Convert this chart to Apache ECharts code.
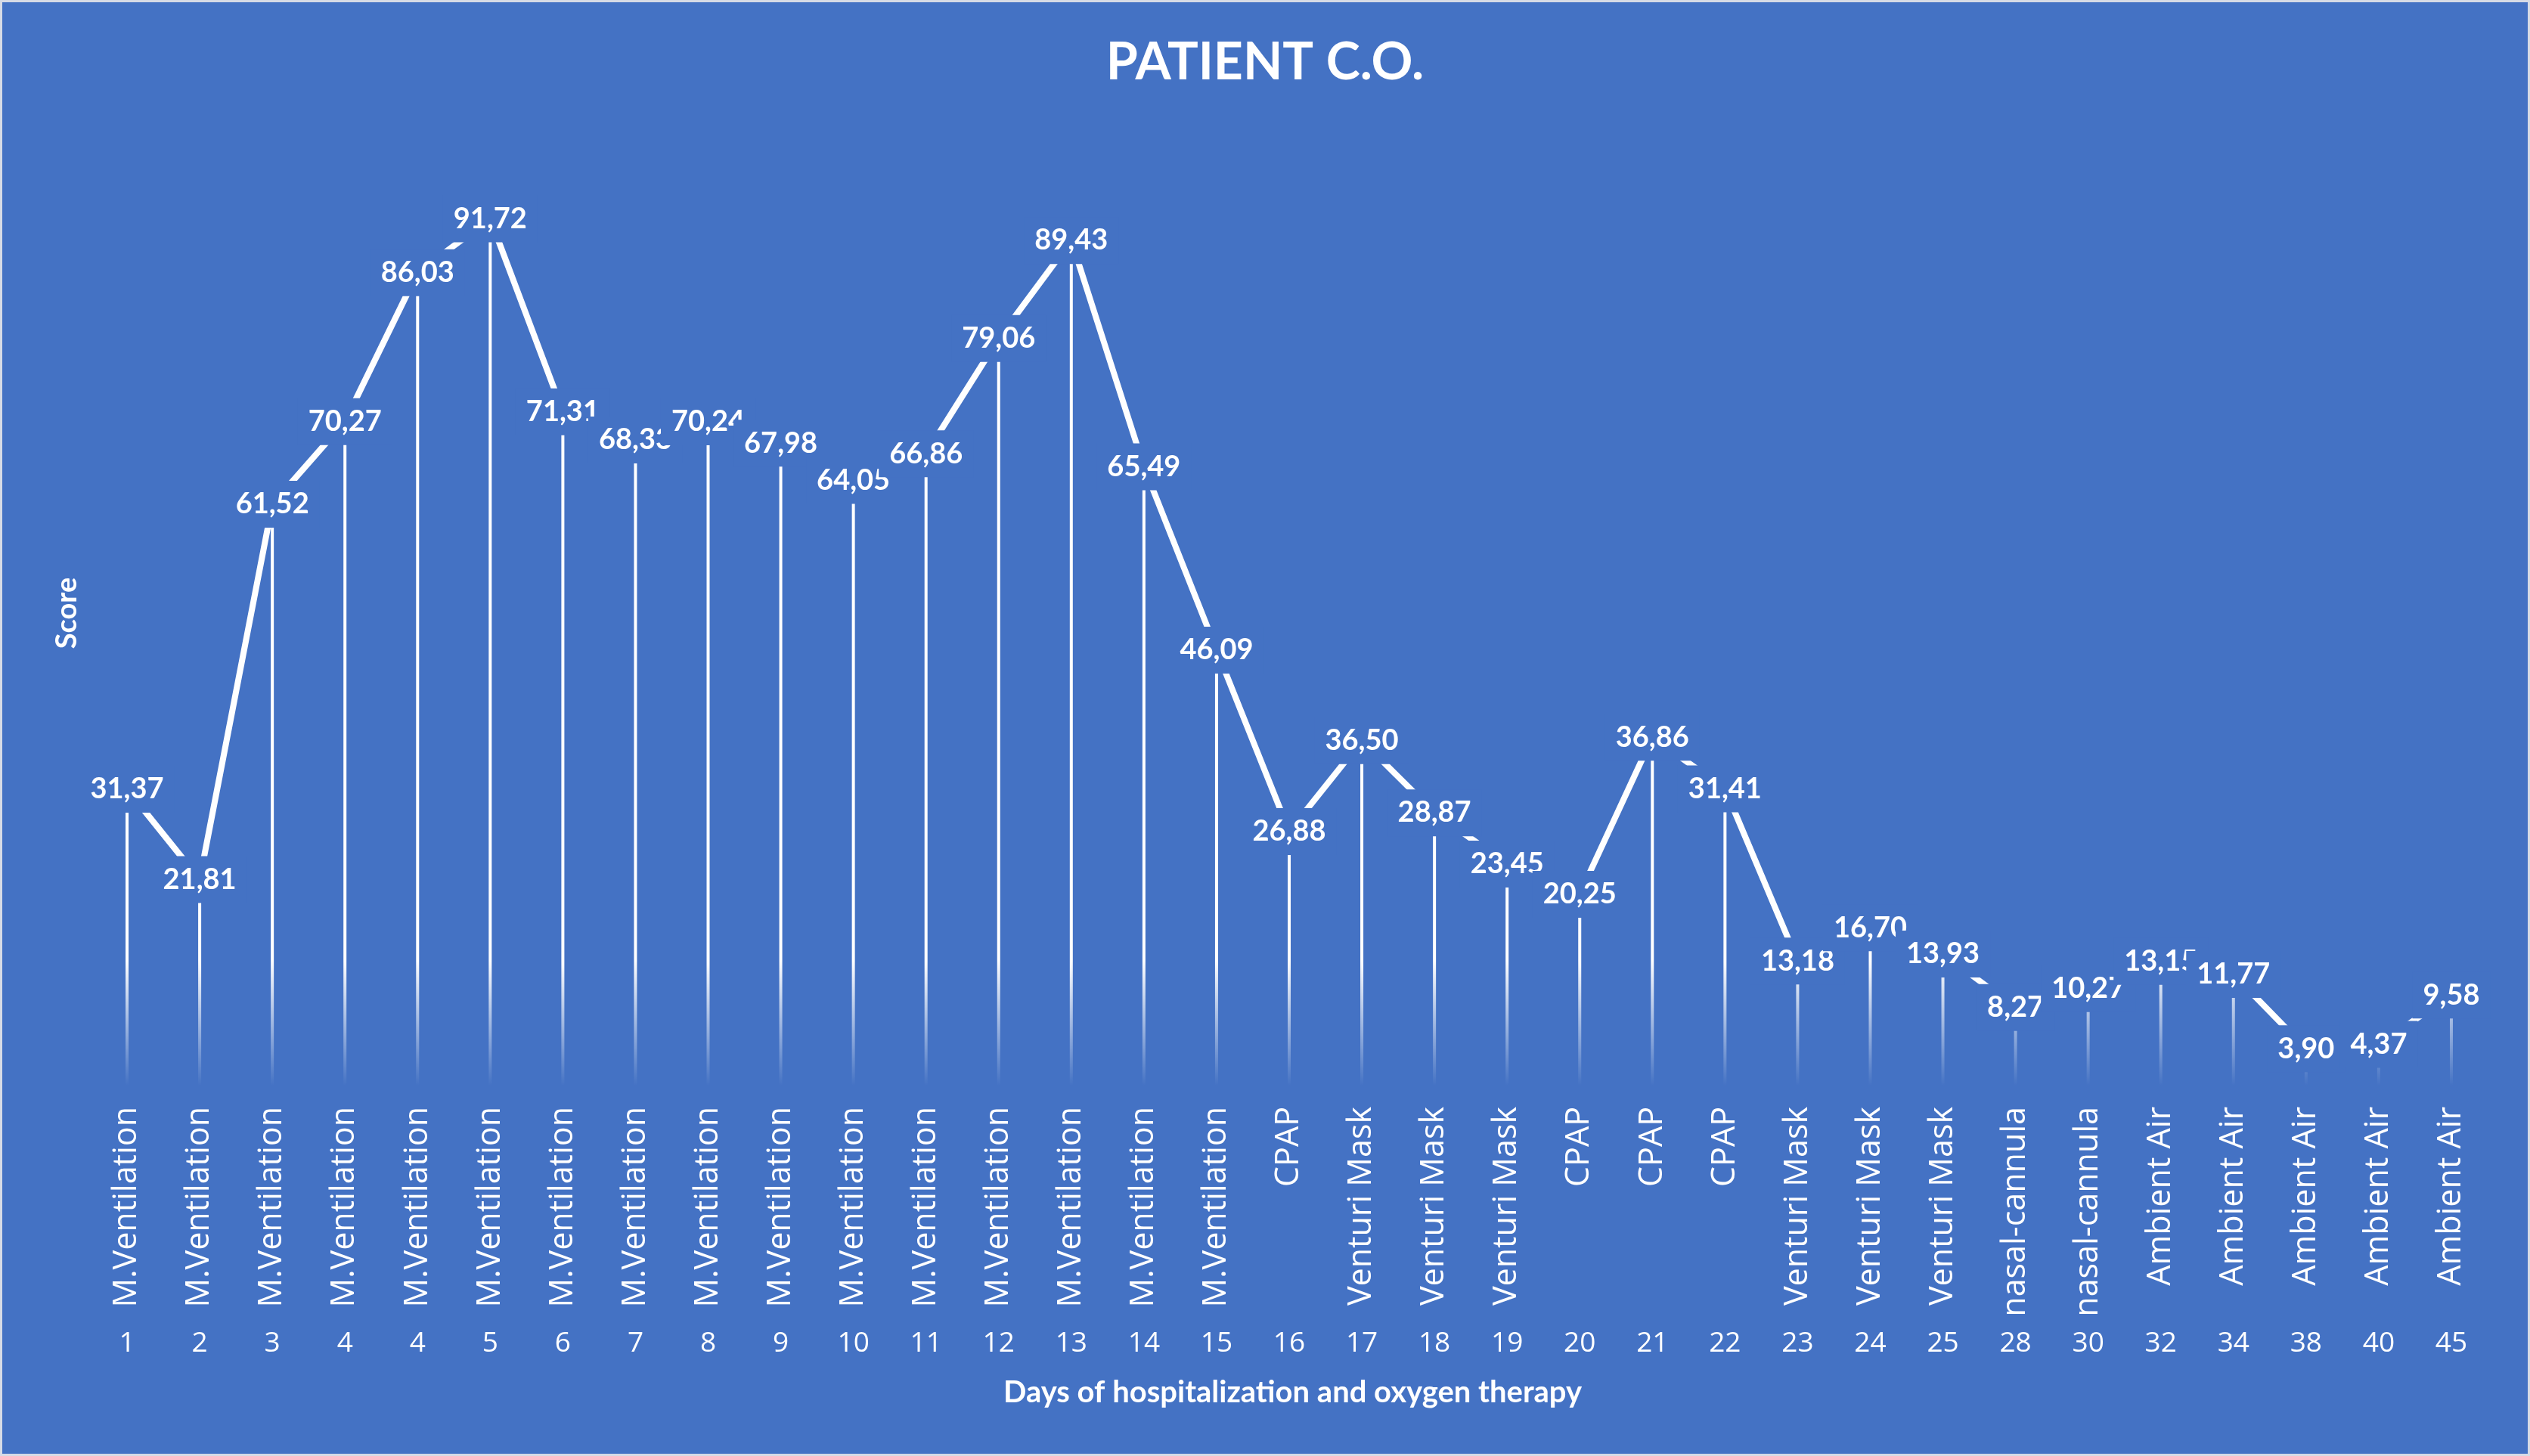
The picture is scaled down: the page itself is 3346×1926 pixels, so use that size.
<!DOCTYPE html>
<html><head><meta charset="utf-8">
<script src="https://cdn.jsdelivr.net/npm/echarts@6/dist/echarts.min.js"></script>
<style>html,body{margin:0;padding:0;background:#fff}#c{width:3346px;height:1926px}</style>
</head><body><div id="c"></div>
<script>
const days = ['1','2','3','4','4','5','6','7','8','9','10','11','12','13','14','15','16','17','18','19','20','21','22','23','24','25','28','30','32','34','38','40','45'];
const therapies = ['M.Ventilation','M.Ventilation','M.Ventilation','M.Ventilation','M.Ventilation','M.Ventilation','M.Ventilation','M.Ventilation','M.Ventilation','M.Ventilation','M.Ventilation','M.Ventilation','M.Ventilation','M.Ventilation','M.Ventilation','M.Ventilation','CPAP','Venturi Mask','Venturi Mask','Venturi Mask','CPAP','CPAP','CPAP','Venturi Mask','Venturi Mask','Venturi Mask','nasal-cannula','nasal-cannula','Ambient Air','Ambient Air','Ambient Air','Ambient Air','Ambient Air'];
const scores = [31.37,21.81,61.52,70.27,86.03,91.72,71.31,68.33,70.24,67.98,64.05,66.86,79.06,89.43,65.49,46.09,26.88,36.50,28.87,23.45,20.25,36.86,31.41,13.18,16.70,13.93,8.27,10.27,13.15,11.77,3.90,4.37,9.58];
const titleText = 'PATIENT C.O.';
const xName = 'Days of hospitalization and oxygen therapy';
const yName = 'Score';

const BG = '#4472C4';
const chart = echarts.init(document.getElementById('c'));
chart.setOption({
  animation: false,
  backgroundColor: BG,
  title: [
    {text: titleText, left: 'center', top: 44,
     textStyle: {color: '#fff', fontFamily: 'Lato', fontWeight: 'bold', fontSize: 68}},
    {text: xName, left: 1322, top: 1817,
     textStyle: {color: '#fff', fontFamily: 'Lato', fontWeight: 'bold', fontSize: 40}}
  ],
  graphic: [{type: 'rect', silent: true, shape: {x: 1, y: 1, width: 3344, height: 1924},
    style: {fill: 'none', stroke: '#d6dbe6', lineWidth: 4}}],
  grid: {left: 120, right: 56, top: 186, bottom: 490, outerBoundsMode: 'none'},
  xAxis: [
    {type: 'category', data: therapies, position: 'bottom',
     axisLine: {show: false}, axisTick: {show: false},
     axisLabel: {interval: 0, rotate: 90, margin: 28, color: '#fff', fontFamily: 'Open Sans', fontSize: 43}},
    {type: 'category', data: days, position: 'bottom',
     axisLine: {show: false}, axisTick: {show: false},
     axisLabel: {interval: 0, margin: 323, color: '#fff', fontFamily: 'Open Sans', fontSize: 37}}
  ],
  yAxis: {type: 'value', min: 0, max: 100,
    name: yName, nameLocation: 'middle', nameGap: 12, nameRotate: 90,
    nameTextStyle: {color: '#fff', fontFamily: 'Lato', fontWeight: 'bold', fontSize: 38},
    axisLine: {show: false}, axisTick: {show: false}, axisLabel: {show: false}, splitLine: {show: false}},
  series: [
    {type: 'bar', data: scores, xAxisIndex: 0, barWidth: 4, silent: true, z: 1,
     itemStyle: {color: {type: 'linear', x: 0, y: 1270, x2: 0, y2: 1436, global: true,
       colorStops: [{offset: 0, color: 'rgba(255,255,255,1)'}, {offset: 1, color: 'rgba(255,255,255,0)'}]}}},
    {type: 'line', data: scores, xAxisIndex: 0, z: 3, silent: true,
     symbol: 'circle', symbolSize: 2, itemStyle: {color: '#fff'},
     lineStyle: {color: '#fff', width: 8},
     label: {show: true, position: 'inside',
       formatter: p => p.value.toFixed(2).replace('.', ','),
       color: '#fff', fontFamily: 'Lato', fontWeight: 'bold', fontSize: 38, lineHeight: 42,
       backgroundColor: BG, padding: [10, 14], textBorderWidth: 0}}
  ]
});
</script></body></html>
